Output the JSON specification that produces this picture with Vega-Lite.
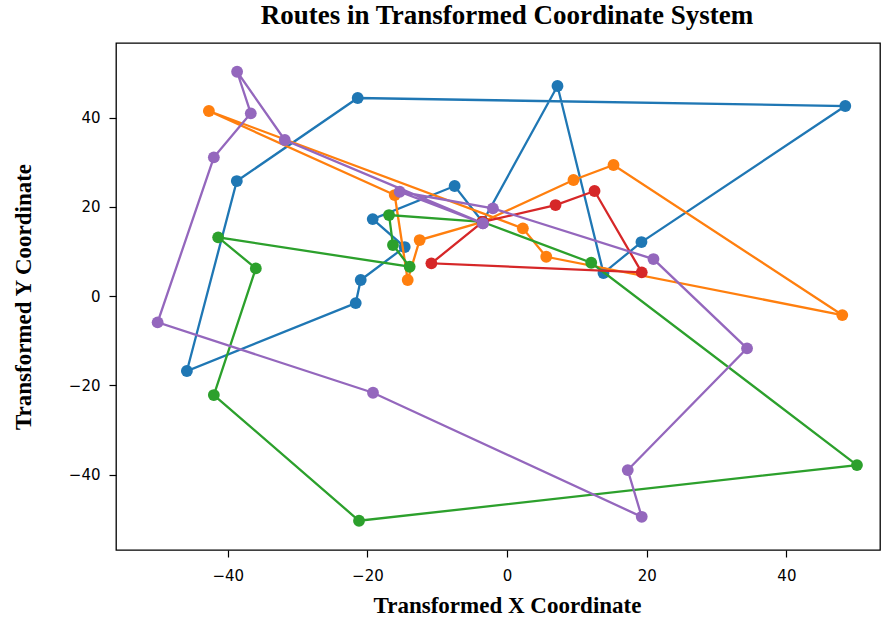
{
  "$schema": "https://vega.github.io/schema/vega-lite/v6.json",
  "width": 764,
  "height": 507,
  "autosize": {"type": "none"},
  "padding": {"left": 116, "top": 43, "right": 4, "bottom": 70},
  "background": "white",
  "title": {
    "text": "Routes in Transformed Coordinate System",
    "font": "Liberation Serif",
    "fontWeight": "bold",
    "fontSize": 27,
    "color": "black",
    "offset": 13,
    "dx": 9,
    "anchor": "middle"
  },
  "config": {
    "view": {"stroke": "black", "strokeWidth": 1.3},
    "axis": {
      "domain": false,
      "grid": false,
      "tickColor": "black",
      "tickSize": 7,
      "tickWidth": 1.2,
      "labelFont": "DejaVu Sans",
      "labelFontSize": 15,
      "labelColor": "black",
      "titleFont": "Liberation Serif",
      "titleFontWeight": "bold",
      "titleFontSize": 23,
      "titleColor": "black"
    }
  },
  "data": {
    "values": [
      {"route": "Route 1", "order": 0, "x": -3.5, "y": 16.6},
      {"route": "Route 1", "order": 1, "x": 7.22, "y": 47.06},
      {"route": "Route 1", "order": 2, "x": 13.8, "y": 5.15},
      {"route": "Route 1", "order": 3, "x": 19.24, "y": 12.1},
      {"route": "Route 1", "order": 4, "x": 48.43, "y": 42.58},
      {"route": "Route 1", "order": 5, "x": -21.39, "y": 44.37},
      {"route": "Route 1", "order": 6, "x": -38.7, "y": 25.77},
      {"route": "Route 1", "order": 7, "x": -45.85, "y": -16.8},
      {"route": "Route 1", "order": 8, "x": -21.67, "y": -1.57},
      {"route": "Route 1", "order": 9, "x": -20.96, "y": 3.59},
      {"route": "Route 1", "order": 10, "x": -14.66, "y": 10.98},
      {"route": "Route 1", "order": 11, "x": -19.24, "y": 17.25},
      {"route": "Route 1", "order": 12, "x": -7.51, "y": 24.65},
      {"route": "Route 1", "order": 13, "x": -3.5, "y": 16.6},
      {"route": "Route 2", "order": 0, "x": -3.5, "y": 16.6},
      {"route": "Route 2", "order": 1, "x": 9.51, "y": 26.0},
      {"route": "Route 2", "order": 2, "x": 15.24, "y": 29.36},
      {"route": "Route 2", "order": 3, "x": 48.0, "y": -4.26},
      {"route": "Route 2", "order": 4, "x": 5.61, "y": 8.8},
      {"route": "Route 2", "order": 5, "x": 2.26, "y": 15.17},
      {"route": "Route 2", "order": 6, "x": -42.7, "y": 41.46},
      {"route": "Route 2", "order": 7, "x": -16.09, "y": 22.63},
      {"route": "Route 2", "order": 8, "x": -14.23, "y": 3.59},
      {"route": "Route 2", "order": 9, "x": -12.52, "y": 12.55},
      {"route": "Route 2", "order": 10, "x": -3.5, "y": 16.6},
      {"route": "Route 3", "order": 0, "x": -3.5, "y": 16.6},
      {"route": "Route 3", "order": 1, "x": -16.9, "y": 18.15},
      {"route": "Route 3", "order": 2, "x": -16.34, "y": 11.43},
      {"route": "Route 3", "order": 3, "x": -13.95, "y": 6.57},
      {"route": "Route 3", "order": 4, "x": -41.37, "y": 13.15},
      {"route": "Route 3", "order": 5, "x": -35.98, "y": 6.2},
      {"route": "Route 3", "order": 6, "x": -41.99, "y": -22.18},
      {"route": "Route 3", "order": 7, "x": -21.2, "y": -50.35},
      {"route": "Route 3", "order": 8, "x": 50.1, "y": -37.87},
      {"route": "Route 3", "order": 9, "x": 12.05, "y": 7.46},
      {"route": "Route 3", "order": 10, "x": -3.5, "y": 16.6},
      {"route": "Route 4", "order": 0, "x": -3.5, "y": 16.6},
      {"route": "Route 4", "order": 1, "x": -10.84, "y": 7.33},
      {"route": "Route 4", "order": 2, "x": 19.28, "y": 5.31},
      {"route": "Route 4", "order": 3, "x": 12.52, "y": 23.53},
      {"route": "Route 4", "order": 4, "x": 6.94, "y": 20.39},
      {"route": "Route 4", "order": 5, "x": -3.5, "y": 16.6},
      {"route": "Route 5", "order": 0, "x": -3.46, "y": 16.29},
      {"route": "Route 5", "order": 1, "x": -31.83, "y": 34.96},
      {"route": "Route 5", "order": 2, "x": -38.66, "y": 50.26},
      {"route": "Route 5", "order": 3, "x": -36.7, "y": 40.94},
      {"route": "Route 5", "order": 4, "x": -41.99, "y": 31.08},
      {"route": "Route 5", "order": 5, "x": -50.04, "y": -5.89},
      {"route": "Route 5", "order": 6, "x": -19.2, "y": -21.67},
      {"route": "Route 5", "order": 7, "x": 19.28, "y": -49.46},
      {"route": "Route 5", "order": 8, "x": 17.28, "y": -38.99},
      {"route": "Route 5", "order": 9, "x": 34.36, "y": -11.72},
      {"route": "Route 5", "order": 10, "x": 20.96, "y": 8.29},
      {"route": "Route 5", "order": 11, "x": -2.03, "y": 19.65},
      {"route": "Route 5", "order": 12, "x": -15.38, "y": 23.37},
      {"route": "Route 5", "order": 13, "x": -3.46, "y": 16.29}
    ]
  },
  "encoding": {
    "x": {
      "field": "x", "type": "quantitative",
      "scale": {"domain": [-56, 53.4], "nice": false, "zero": false},
      "axis": {"values": [-40, -20, 0, 20, 40], "title": "Transformed X Coordinate", "labelPadding": 11, "titlePadding": 11, "titleX": 391}
    },
    "y": {
      "field": "y", "type": "quantitative",
      "scale": {"domain": [-56.9, 56.7], "nice": false, "zero": false},
      "axis": {"values": [-40, -20, 0, 20, 40], "title": "Transformed Y Coordinate", "labelPadding": 9, "titlePadding": 33}
    },
    "color": {
      "field": "route", "type": "nominal",
      "scale": {"domain": ["Route 1", "Route 2", "Route 3", "Route 4", "Route 5"], "range": ["#1f77b4", "#ff7f0e", "#2ca02c", "#d62728", "#9467bd"]},
      "legend": null
    },
    "order": {"field": "order", "type": "quantitative"}
  },
  "layer": [
    {"transform": [{"filter": "datum.route === 'Route 1'"}], "mark": {"type": "line", "strokeWidth": 2.3}},
    {"transform": [{"filter": "datum.route === 'Route 1'"}], "mark": {"type": "point", "shape": "circle", "filled": true, "opacity": 1, "size": 140}},
    {"transform": [{"filter": "datum.route === 'Route 2'"}], "mark": {"type": "line", "strokeWidth": 2.3}},
    {"transform": [{"filter": "datum.route === 'Route 2'"}], "mark": {"type": "point", "shape": "circle", "filled": true, "opacity": 1, "size": 140}},
    {"transform": [{"filter": "datum.route === 'Route 3'"}], "mark": {"type": "line", "strokeWidth": 2.3}},
    {"transform": [{"filter": "datum.route === 'Route 3'"}], "mark": {"type": "point", "shape": "circle", "filled": true, "opacity": 1, "size": 140}},
    {"transform": [{"filter": "datum.route === 'Route 4'"}], "mark": {"type": "line", "strokeWidth": 2.3}},
    {"transform": [{"filter": "datum.route === 'Route 4'"}], "mark": {"type": "point", "shape": "circle", "filled": true, "opacity": 1, "size": 140}},
    {"transform": [{"filter": "datum.route === 'Route 5'"}], "mark": {"type": "line", "strokeWidth": 2.3}},
    {"transform": [{"filter": "datum.route === 'Route 5'"}], "mark": {"type": "point", "shape": "circle", "filled": true, "opacity": 1, "size": 140}}
  ]
}
